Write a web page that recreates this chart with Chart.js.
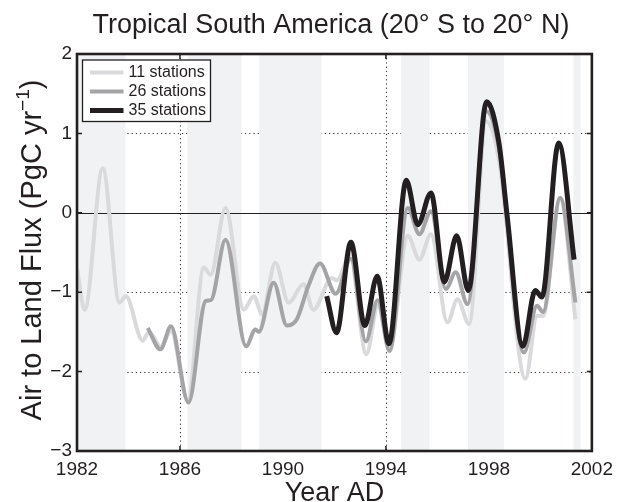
<!DOCTYPE html>
<html>
<head>
<meta charset="utf-8">
<script src="https://cdn.jsdelivr.net/npm/chart.js@4.4.1/dist/chart.umd.min.js"></script>
<style>
  html, body { margin: 0; padding: 0; background: #fff; }
  #wrap { width: 620px; height: 502px; }
</style>
</head>
<body>
<div id="wrap"><canvas id="c" width="620" height="502"></canvas></div>
<script>
// ── data (year AD, PgC/yr) ──
const years11 = [1982.0, 1982.3, 1983.0, 1983.65, 1983.9, 1984.55, 1984.8, 1985.26, 1985.65, 1986.3,
  1986.93, 1987.19, 1987.77, 1988.48, 1988.87, 1989.19, 1989.7, 1990.22, 1990.8, 1991.18,
  1991.9, 1992.1, 1992.6, 1993.24, 1993.69, 1994.14, 1994.85, 1995.3, 1995.75, 1996.39,
  1996.78, 1997.23, 1997.9, 1998.4, 1999.42, 1999.87, 2000.1, 2000.77, 2001.36];
const flux11 = [-0.70, -1.22, 0.56, -1.13, -1.05, -1.61, -1.50, -1.69, -1.49, -2.36,
  -0.69, -0.78, 0.06, -1.22, -1.05, -1.28, -0.63, -1.13, -0.90, -1.22,
  -0.82, -0.85, -0.54, -1.78, -1.17, -1.72, -0.29, -0.59, -0.27, -1.38,
  -1.09, -1.40, 1.15, 0.65, -2.09, -1.30, -1.30, 0.17, -1.34];

const years26 = [1984.75, 1985.24, 1985.65, 1986.33, 1987.0, 1987.2, 1987.77, 1988.57, 1988.93, 1989.06,
  1989.64, 1990.15, 1990.54, 1990.99, 1991.44, 1992.05, 1992.64, 1993.22, 1993.68, 1994.14,
  1994.85, 1995.3, 1995.75, 1996.33, 1996.71, 1997.17, 1997.9, 1998.4, 1999.36, 1999.87,
  2000.1, 2000.77, 2001.36];
const flux26 = [-1.45, -1.72, -1.43, -2.39, -1.11, -1.10, -0.34, -1.68, -1.47, -1.50,
  -0.88, -1.42, -1.34, -0.92, -0.64, -1.02, -0.58, -1.62, -1.10, -1.74,
  0.06, -0.27, 0.02, -0.96, -0.75, -1.15, 1.28, 0.80, -1.76, -1.17,
  -1.25, 0.19, -1.13];

const years35 = [1991.7, 1992.08, 1992.64, 1993.18, 1993.66, 1994.12, 1994.79, 1995.24, 1995.75, 1996.27,
  1996.75, 1997.2, 1997.91, 1998.39, 1998.71, 1999.32, 1999.8, 2000.06, 2000.71, 2001.31];
const flux35 = [-1.05, -1.51, -0.37, -1.42, -0.80, -1.65, 0.41, -0.15, 0.25, -0.87,
  -0.29, -0.98, 1.40, 0.88, -0.04, -1.68, -0.98, -1.06, 0.88, -0.59];

// grey bands behind the curves
const bandStart = [1982.0, 1986.29, 1989.08, 1994.59, 1997.19, 2001.28];
const bandEnd   = [1983.88, 1988.39, 1991.5, 1995.69, 1998.58, 2001.56];

const xTicks = [1982, 1986, 1990, 1994, 1998, 2002];
const yTicks = [-3, -2, -1, 0, 1, 2];
const seriesNames = ['11 stations', '26 stations', '35 stations'];

const INK = '#231f20';
const FONT = '"Liberation Sans", Arial, Helvetica, sans-serif';
const colors = ['#dadadc', '#a4a4a6', INK];
const widths = [4, 4, 5];

Chart.defaults.font.family = FONT;
Chart.defaults.color = INK;

const pts = (xs, ys) => xs.map((x, i) => ({ x, y: ys[i] }));

function series(i, xs, ys, order) {
  return {
    label: seriesNames[i],
    data: pts(xs, ys),
    borderColor: colors[i],
    borderWidth: widths[i],
    pointRadius: 0,
    fill: false,
    cubicInterpolationMode: 'monotone',
    borderCapStyle: 'butt',
    borderJoinStyle: 'round',
    order
  };
}

// grid, bands, frame, inward ticks, legend and titles
const frame = {
  id: 'frame',
  beforeDatasetsDraw(chart) {
    const { ctx, chartArea: a, scales: { x, y } } = chart;
    ctx.save();
    ctx.strokeStyle = '#333';
    ctx.lineWidth = 1;
    ctx.setLineDash([1.2, 3]);
    xTicks.forEach(v => {
      const px = Math.round(x.getPixelForValue(v)) + 0.5;
      ctx.beginPath(); ctx.moveTo(px, a.top); ctx.lineTo(px, a.bottom); ctx.stroke();
    });
    yTicks.forEach(v => {
      if (v === 0) return;
      const py = Math.round(y.getPixelForValue(v)) + 0.5;
      ctx.beginPath(); ctx.moveTo(a.left, py); ctx.lineTo(a.right, py); ctx.stroke();
    });
    ctx.setLineDash([]);
    // x tick marks sit under the bands
    ctx.strokeStyle = INK;
    ctx.lineWidth = 1.5;
    xTicks.forEach(v => {
      const px = x.getPixelForValue(v);
      ctx.beginPath();
      ctx.moveTo(px, a.bottom); ctx.lineTo(px, a.bottom - 5);
      ctx.moveTo(px, a.top); ctx.lineTo(px, a.top + 5);
      ctx.stroke();
    });
    ctx.fillStyle = '#f1f2f4';
    bandStart.forEach((s, i) => {
      const x0 = x.getPixelForValue(s), x1 = x.getPixelForValue(bandEnd[i]);
      ctx.fillRect(x0, a.top, x1 - x0, a.bottom - a.top);
    });
    // zero line
    const y0 = Math.round(y.getPixelForValue(0)) + 0.5;
    ctx.strokeStyle = INK;
    ctx.lineWidth = 1.2;
    ctx.beginPath(); ctx.moveTo(a.left, y0); ctx.lineTo(a.right, y0); ctx.stroke();
    ctx.restore();
  },
  afterDatasetsDraw(chart) {
    const { ctx, chartArea: a, scales: { y } } = chart;
    ctx.save();
    ctx.strokeStyle = INK;
    ctx.lineWidth = 1.5;
    yTicks.forEach(v => {
      const py = y.getPixelForValue(v);
      ctx.beginPath();
      ctx.moveTo(a.left, py); ctx.lineTo(a.left + 5, py);
      ctx.moveTo(a.right, py); ctx.lineTo(a.right - 5, py);
      ctx.stroke();
    });
    ctx.lineWidth = 2.6;
    ctx.strokeRect(a.left, a.top, a.right - a.left, a.bottom - a.top);

    // legend box
    const lx = a.left + 5.5, ly = a.top + 6, lw = 128, lh = 61.5;
    ctx.fillStyle = '#fff';
    ctx.fillRect(lx, ly, lw, lh);
    ctx.lineWidth = 1.3;
    ctx.strokeRect(lx, ly, lw, lh);
    ctx.font = '16px ' + FONT;
    ctx.textBaseline = 'middle';
    ctx.fillStyle = INK;
    seriesNames.forEach((name, i) => {
      const yy = ly + 12.5 + i * 19;
      ctx.strokeStyle = colors[i];
      ctx.lineWidth = widths[i];
      ctx.beginPath(); ctx.moveTo(lx + 7.5, yy); ctx.lineTo(lx + 41, yy); ctx.stroke();
      ctx.fillText(name, lx + 46, yy + 0.5);
    });

    // titles
    ctx.fillStyle = INK;
    ctx.textBaseline = 'alphabetic';
    ctx.textAlign = 'center';
    ctx.font = '27px ' + FONT;
    ctx.fillText('Tropical South America (20° S to 20° N)', 331, 33);
    ctx.fillText('Year AD', (a.left + a.right) / 2, 501);

    // y title with a real superscript
    const main = 'Air to Land Flux (PgC yr', sup = '\u22121', close = ')';
    const mainFont = '29px ' + FONT, supFont = '19px ' + FONT;
    ctx.font = mainFont;
    const wMain = ctx.measureText(main).width, wClose = ctx.measureText(close).width;
    ctx.font = supFont;
    const wSup = ctx.measureText(sup).width;
    const total = wMain + wSup + wClose;
    ctx.translate(41, 250);
    ctx.rotate(-Math.PI / 2);
    ctx.textAlign = 'left';
    let tx = -total / 2;
    ctx.font = mainFont;
    ctx.fillText(main, tx, 0);
    tx += wMain;
    ctx.font = supFont;
    ctx.fillText(sup, tx, -12);
    tx += wSup;
    ctx.font = mainFont;
    ctx.fillText(close, tx, 0);
    ctx.restore();
  }
};

new Chart(document.getElementById('c'), {
  type: 'line',
  data: {
    datasets: [
      series(0, years11, flux11, 3),
      series(1, years26, flux26, 2),
      series(2, years35, flux35, 1)
    ]
  },
  options: {
    responsive: false,
    animation: false,
    layout: { padding: { left: 0, right: 25, top: 54, bottom: 0 } },
    plugins: {
      legend: { display: false },
      tooltip: { enabled: false },
      title: { display: false }
    },
    scales: {
      x: {
        type: 'linear',
        min: 1982, max: 2002,
        grid: { display: false, drawTicks: false },
        border: { display: false },
        ticks: {
          stepSize: 4,
          padding: 7,
          color: INK,
          font: { size: 19 },
          maxRotation: 0,
          callback: v => String(v)
        },
        afterFit: s => { s.height = 51; }
      },
      y: {
        min: -3, max: 2,
        grid: { display: false, drawTicks: false },
        border: { display: false },
        ticks: {
          stepSize: 1,
          padding: 5,
          color: INK,
          font: { size: 19 },
          callback: v => (v < 0 ? '\u2212' + Math.abs(v) : String(v))
        },
        afterFit: s => { s.width = 77; }
      }
    }
  },
  plugins: [frame]
});
</script>
</body>
</html>
